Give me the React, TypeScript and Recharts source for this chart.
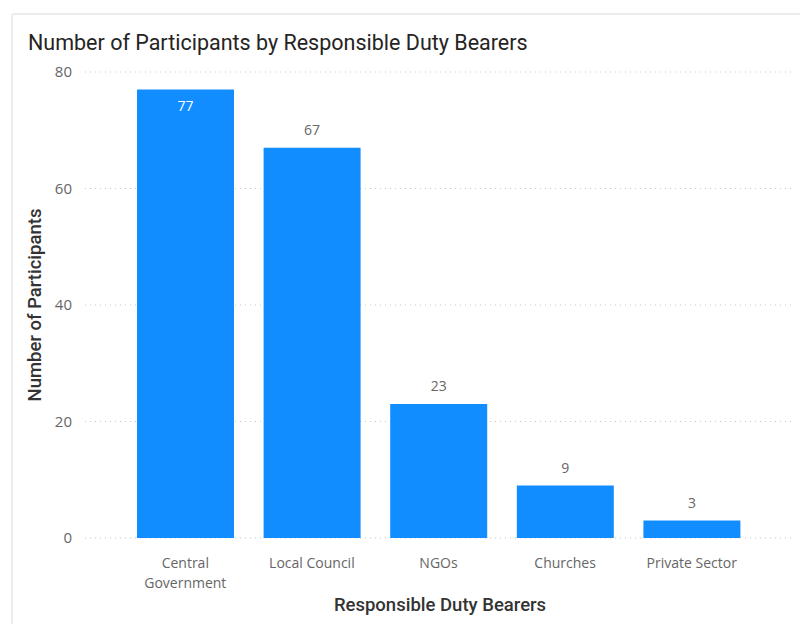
import React from "react";
import { BarChart, Bar, XAxis, YAxis, CartesianGrid, LabelList, Text } from "recharts";

const categories = ["Central Government", "Local Council", "NGOs", "Churches", "Private Sector"];
const participants = [77, 67, 23, 9, 3];
const yTicks = [0, 20, 40, 60, 80];

const data = categories.map((name, i) => ({ name, participants: participants[i] }));

const FONT = "'Open Sans', 'Noto Sans', sans-serif";
const TITLE_FONT = "Roboto, 'Noto Sans', sans-serif";

const CategoryTick = (props: any) => {
  const { x, y, payload } = props;
  return (
    <Text
      x={x}
      y={y}
      width={105}
      textAnchor="middle"
      verticalAnchor="start"
      fontSize={14}
      fontFamily={FONT}
      fill="#666666"
      lineHeight={20}
    >
      {payload.value}
    </Text>
  );
};

const ValueLabel = (props: any) => {
  const { x, y, width, value } = props;
  // not enough room above the tallest bar, so its label sits inside
  const inside = y < 100;
  return (
    <text
      x={x + width / 2}
      y={inside ? y + 22 : y - 13}
      textAnchor="middle"
      fontSize={14}
      fontFamily={FONT}
      fill={inside ? "#ffffff" : "#666666"}
    >
      {value}
    </text>
  );
};

export default function App() {
  return (
    <div style={{ position: "absolute", left: 0, top: 0, width: 800, height: 624, background: "#fff", overflow: "hidden" }}>
      <div
        style={{
          position: "absolute",
          left: 11,
          top: 13,
          width: 820,
          height: 640,
          border: "2px solid #ececec",
          borderRadius: 3,
        }}
      />
      <div
        style={{
          position: "absolute",
          left: 28,
          top: 30,
          fontFamily: TITLE_FONT,
          fontSize: 21.5,
          color: "#252423",
          whiteSpace: "nowrap",
        }}
      >
        Number of Participants by Responsible Duty Bearers
      </div>
      <div style={{ position: "absolute", left: 0, top: 0 }}>
        <BarChart
          width={800}
          height={624}
          data={data}
          margin={{ top: 72, right: 5, bottom: 0, left: 0 }}
        >
          <CartesianGrid vertical={false} stroke="#c8c8c8" strokeDasharray="1 4" />
          <XAxis
            dataKey="name"
            axisLine={false}
            tickLine={false}
            interval={0}
            padding={{ left: 37, right: 40 }}
            tick={<CategoryTick />}
            tickMargin={14}
            height={86}
            label={{
              value: "Responsible Duty Bearers",
              position: "insideBottom",
              offset: 13,
              fill: "#333333",
              fontSize: 18.5,
              fontFamily: TITLE_FONT,
              fontWeight: 500,
            }}
          />
          <YAxis
            domain={[0, 80]}
            ticks={yTicks}
            axisLine={false}
            tickLine={false}
            tickSize={6}
            tickMargin={7}
            width={85}
            tick={{ fill: "#666666", fontSize: 15, fontFamily: FONT }}
            label={{
              value: "Number of Participants",
              angle: -90,
              position: "insideLeft",
              offset: 34,
              style: { textAnchor: "middle" },
              fill: "#333333",
              fontSize: 18.5,
              fontFamily: TITLE_FONT,
              fontWeight: 500,
            }}
          />
          <Bar dataKey="participants" fill="#118DFF" barSize={97} isAnimationActive={false}>
            <LabelList dataKey="participants" content={<ValueLabel />} />
          </Bar>
        </BarChart>
      </div>
    </div>
  );
}
